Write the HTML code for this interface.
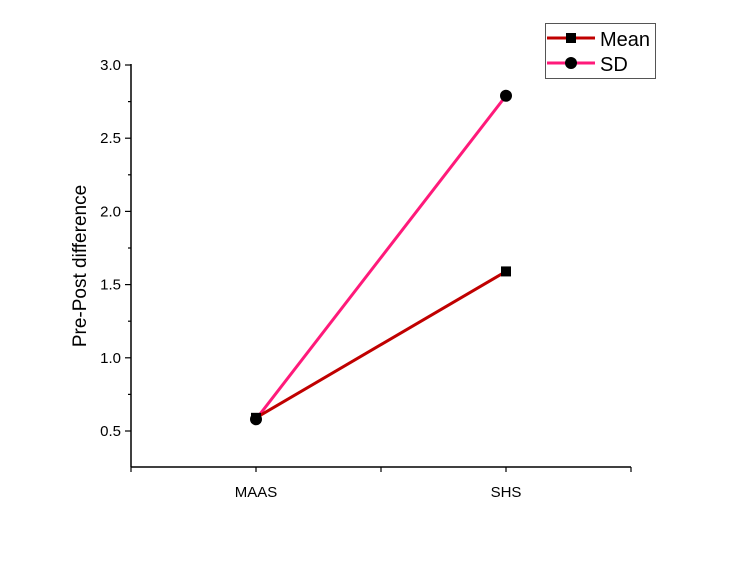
<!DOCTYPE html>
<html><head><meta charset="utf-8"><style>body{margin:0;background:#fff}svg{display:block;font-family:"Liberation Sans",Arial,sans-serif}</style></head>
<body>
<svg width="733" height="561" viewBox="0 0 733 561">
<g id="axes"></g>
<g id="marks"></g>
<g>
<rect x="545.5" y="23.5" width="110" height="55" fill="#fff" stroke="#555" stroke-width="1"/>
<line x1="547" y1="38" x2="595" y2="38" stroke="#c00000" stroke-width="3"/>
<rect x="566" y="33" width="10" height="10" fill="#000"/>
<text x="600" y="46" font-size="20">Mean</text>
<line x1="547" y1="63" x2="595" y2="63" stroke="#ff1a7a" stroke-width="3"/>
<circle cx="571" cy="63" r="6" fill="#000"/>
<text x="600" y="71" font-size="20">SD</text>
</g>
<text transform="translate(86,266) rotate(-90)" text-anchor="middle" font-size="19">Pre-Post difference</text>
</svg>
<script>
const categories=["MAAS","SHS"];
const meanValues=[0.59,1.59];
const sdValues=[0.58,2.79];
const yTicks=["0.5","1.0","1.5","2.0","2.5","3.0"];
const NS="http://www.w3.org/2000/svg";
const x0=131,x1=631,yTop=64,yBot=467;
function xs(i){return x0+(i+0.5)*(x1-x0)/(categories.length*2-1+1)*1+ (i)*0;}
function xScale(i){return 131+125*(2*i+1);}
function yScale(v){return 431-(v-0.5)*146.4;}
function mk(tag,attrs,parent){const e=document.createElementNS(NS,tag);for(const k in attrs)e.setAttribute(k,attrs[k]);parent.appendChild(e);return e;}
const ax=document.getElementById('axes');
let l=mk('line',{x1:x0,y1:yTop,x2:x0,y2:yBot,stroke:'#000','stroke-width':1.5},ax);


l=mk('line',{x1:x0,y1:yBot,x2:x1,y2:yBot,stroke:'#000','stroke-width':1.5},ax);


for(let v=0.5;v<=3.001;v+=0.25){const y=yScale(v);const major=Math.abs(v*2-Math.round(v*2))<1e-6;mk('line',{x1:x0-(major?6:3),y1:y,x2:x0,y2:y,stroke:'#000','stroke-width':1.2},ax);}
yTicks.forEach(t=>{const y=yScale(parseFloat(t));const e=mk('text',{x:x0-10,y:y+5,'text-anchor':'end','font-size':15},ax);e.textContent=t;

});
for(let i=0;i<=4;i++){const x=x0+125*i;mk('line',{x1:x,y1:yBot,x2:x,y2:yBot+5,stroke:'#000','stroke-width':1.2},ax);}
categories.forEach((c,i)=>{const e=mk('text',{x:xScale(i),y:yBot+30,'text-anchor':'middle','font-size':15},ax);e.textContent=c;

});
const mg=document.getElementById('marks');
function series(vals,color,name,shape){
const pts=vals.map((v,i)=>xScale(i)+','+yScale(v)).join(' ');
const p=mk('polyline',{points:pts,fill:'none',stroke:color,'stroke-width':3},mg);


return ()=>vals.forEach((v,i)=>{let m;if(shape==='sq')m=mk('rect',{x:xScale(i)-5,y:yScale(v)-5,width:10,height:10,fill:'#000'},mg);else m=mk('circle',{cx:xScale(i),cy:yScale(v),r:6,fill:'#000'},mg);

});}
const a=series(sdValues,'#ff1a7a','sd','c');
const b=series(meanValues,'#c00000','mean','sq');
b();a();
</script>
</body></html>
